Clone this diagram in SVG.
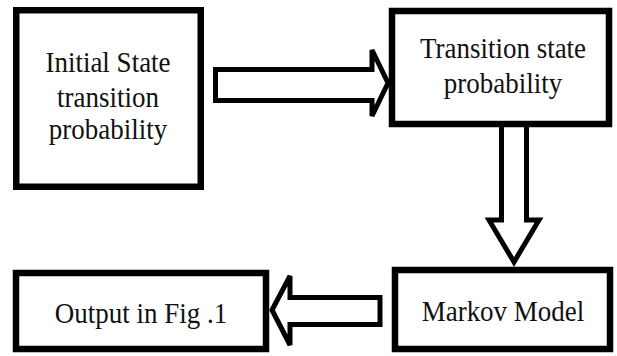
<svg xmlns="http://www.w3.org/2000/svg" width="617" height="356" viewBox="0 0 617 356">
<style>
.box{fill:#fff;stroke:#000;stroke-width:6.5}
.arr{fill:#fff;stroke:#000;stroke-width:5;stroke-linejoin:miter}
.t{font-family:"Liberation Serif","Times New Roman",serif;font-size:27px;fill:#111;text-anchor:middle}
</style>
<rect width="617" height="356" fill="#fff"/>
<g id="connectors">
<polygon class="arr" points="215.5,69.5 372,69.5 372,50 388,83 372,116 372,100.5 215.5,100.5"/>
<polyline class="arr" points="501.5,124 501.5,220 489,220 514,262 539,220 526.5,220 526.5,124"/>
<polygon class="arr" points="380,297.5 290,297.5 290,276 272,310 290,345 290,324.5 380,324.5"/>
</g>
<g id="node1">
<rect class="box" x="16.25" y="10.25" width="184.5" height="176.5"/>
<g transform="translate(108,71.5) scale(1,1.12)"><text class="t" x="0" y="0">Initial State</text></g>
<g transform="translate(108,106.5) scale(1,1.12)"><text class="t" x="0" y="0">transition</text></g>
<g transform="translate(108,138.5) scale(1,1.12)"><text class="t" x="0" y="0">probability</text></g>
</g>
<g id="node2">
<rect class="box" x="392" y="11" width="217" height="113"/>
<g transform="translate(503,58) scale(1,1.12)"><text class="t" x="0" y="0">Transition state</text></g>
<g transform="translate(503,93) scale(1,1.12)"><text class="t" x="0" y="0">probability</text></g>
</g>
<g id="node3">
<rect class="box" x="395" y="270" width="215" height="79"/>
<g transform="translate(503,321) scale(1,1.12)"><text class="t" x="0" y="0">Markov Model</text></g>
</g>
<g id="node4">
<rect class="box" x="16" y="273" width="250" height="76"/>
<g transform="translate(141,323) scale(1,1.12)"><text class="t" x="0" y="0">Output in Fig .1</text></g>
</g>
</svg>
